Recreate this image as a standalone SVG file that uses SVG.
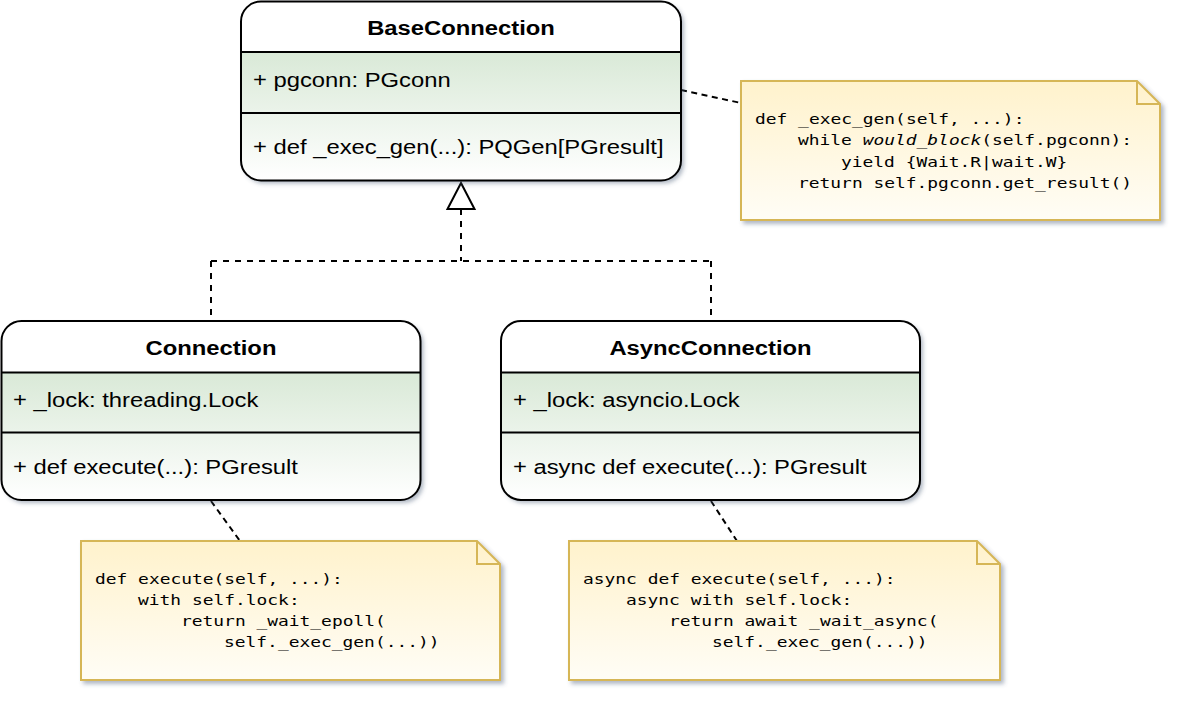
<svg xmlns="http://www.w3.org/2000/svg" width="1184" height="704" viewBox="0 0 1184 704">
<defs>
<style>
.sans{font-family:"Liberation Sans",Arial,sans-serif;font-size:20px;fill:#000}
.bold{font-weight:bold}
.mono{font-family:"DejaVu Sans Mono","Liberation Mono",monospace;font-size:14px;fill:#000}
.box{fill:none;stroke:#000;stroke-width:2}
.sep{stroke:#000;stroke-width:2}
.body{fill:url(#g)}
.note{fill:url(#n);stroke:#d6b656;stroke-width:2}
.fold{fill:none;stroke:#d6b656;stroke-width:2}
.dash{fill:none;stroke:#000;stroke-width:2;stroke-dasharray:6 6}
.ndash{fill:none;stroke:#000;stroke-width:2;stroke-dasharray:6 4.5}
</style>
<linearGradient id="g" x1="0" y1="0" x2="0" y2="1">
<stop offset="0" stop-color="#d9e9d7"/>
<stop offset="1" stop-color="#ffffff"/>
</linearGradient>
<linearGradient id="n" x1="0" y1="0" x2="0" y2="1">
<stop offset="0" stop-color="#fff2cc"/>
<stop offset="1" stop-color="#fffdf6"/>
</linearGradient>
<filter id="sh" x="-5%" y="-5%" width="115%" height="120%">
<feDropShadow dx="3" dy="3" stdDeviation="2" flood-color="#50607a" flood-opacity="0.45"/>
</filter>
</defs>
<rect width="1184" height="704" fill="#ffffff"/>

<g id="connectors">
<path class="dash" d="M461,209 V261 M211,261 H711 M211,261 V321 M711,261 V321"/>
<polygon points="461,183 447.5,209 474.5,209" fill="#ffffff" stroke="#000" stroke-width="2"/>
<path class="ndash" d="M681,90 L741,103"/>
<path class="ndash" d="M211,501 L240,541"/>
<path class="ndash" d="M711,501 L737,541"/>
</g>

<g id="BaseConnection">
<rect x="241" y="1.5" width="440" height="179" rx="20" fill="#fff" filter="url(#sh)"/>
<path class="body" d="M241,52 H681 V160.5 A20,20 0 0 1 661,180.5 H261 A20,20 0 0 1 241,160.5 Z"/>
<rect class="box" x="241" y="1.5" width="440" height="179" rx="20"/>
<path class="sep" d="M241,52 H681 M241,113 H681"/>
<text class="sans bold" text-anchor="middle" transform="translate(461 35) scale(1.19 1)">BaseConnection</text>
<text class="sans" transform="translate(253 87) scale(1.19 1)">+ pgconn: PGconn</text>
<text class="sans" transform="translate(253 154) scale(1.19 1)">+ def _exec_gen(...): PQGen[PGresult]</text>
</g>

<g id="Connection">
<rect x="1.5" y="321" width="419" height="179" rx="20" fill="#fff" filter="url(#sh)"/>
<path class="body" d="M1.5,372.5 H420.5 V480 A20,20 0 0 1 400.5,500 H21.5 A20,20 0 0 1 1.5,480 Z"/>
<rect class="box" x="1.5" y="321" width="419" height="179" rx="20"/>
<path class="sep" d="M1.5,372.5 H420.5 M1.5,432.5 H420.5"/>
<text class="sans bold" text-anchor="middle" transform="translate(211 355) scale(1.19 1)">Connection</text>
<text class="sans" transform="translate(13 407) scale(1.19 1)">+ _lock: threading.Lock</text>
<text class="sans" transform="translate(13 474) scale(1.19 1)">+ def execute(...): PGresult</text>
</g>

<g id="AsyncConnection">
<rect x="501" y="321" width="419" height="179" rx="20" fill="#fff" filter="url(#sh)"/>
<path class="body" d="M501,372.5 H920 V480 A20,20 0 0 1 900,500 H521 A20,20 0 0 1 501,480 Z"/>
<rect class="box" x="501" y="321" width="419" height="179" rx="20"/>
<path class="sep" d="M501,372.5 H920 M501,432.5 H920"/>
<text class="sans bold" text-anchor="middle" transform="translate(710.5 355) scale(1.19 1)">AsyncConnection</text>
<text class="sans" transform="translate(513 407) scale(1.19 1)">+ _lock: asyncio.Lock</text>
<text class="sans" transform="translate(513 474) scale(1.19 1)">+ async def execute(...): PGresult</text>
</g>

<g id="note-exec-gen">
<path class="note" filter="url(#sh)" d="M741,81 H1137 L1160,104 V220 H741 Z"/>
<path class="fold" d="M1137,81 V104 H1160"/>
<text class="mono" transform="translate(755 123.5) scale(1.28 1)">def _exec_gen(self, ...):</text>
<text class="mono" transform="translate(798 145) scale(1.28 1)">while <tspan font-style="italic">would_block</tspan>(self.pgconn):</text>
<text class="mono" transform="translate(841 166.5) scale(1.28 1)">yield {Wait.R|wait.W}</text>
<text class="mono" transform="translate(798 188) scale(1.28 1)">return self.pgconn.get_result()</text>
</g>

<g id="note-execute">
<path class="note" filter="url(#sh)" d="M81,541 H477 L500,564 V680 H81 Z"/>
<path class="fold" d="M477,541 V564 H500"/>
<text class="mono" transform="translate(95 583.5) scale(1.28 1)">def execute(self, ...):</text>
<text class="mono" transform="translate(138 604.5) scale(1.28 1)">with self.lock:</text>
<text class="mono" transform="translate(181 625.5) scale(1.28 1)">return _wait_epoll(</text>
<text class="mono" transform="translate(224 646.5) scale(1.28 1)">self._exec_gen(...))</text>
</g>

<g id="note-async-execute">
<path class="note" filter="url(#sh)" d="M569,541 H977 L1000,564 V680 H569 Z"/>
<path class="fold" d="M977,541 V564 H1000"/>
<text class="mono" transform="translate(583 583.5) scale(1.28 1)">async def execute(self, ...):</text>
<text class="mono" transform="translate(626 604.5) scale(1.28 1)">async with self.lock:</text>
<text class="mono" transform="translate(669 625.5) scale(1.28 1)">return await _wait_async(</text>
<text class="mono" transform="translate(712 646.5) scale(1.28 1)">self._exec_gen(...))</text>
</g>
</svg>
